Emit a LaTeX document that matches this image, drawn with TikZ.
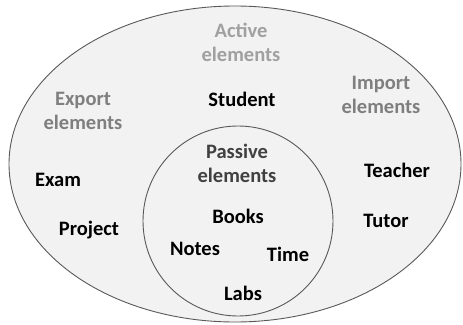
\documentclass[tikz,border=0pt]{standalone}
\usepackage{fontspec}
\setmainfont{Carlito}
\definecolor{fillgray}{HTML}{F2F2F2}
\definecolor{edgegray}{HTML}{595959}
\definecolor{lightlabel}{HTML}{A0A0A0}
\definecolor{midlabel}{HTML}{7F7F7F}
\definecolor{darklabel}{HTML}{404040}
\begin{document}
\begin{tikzpicture}[x=1pt,y=-1pt,
  lbl/.style={font=\fontsize{20.5}{24}\selectfont\bfseries,align=center,inner sep=0pt},
  item/.style={lbl,text=black},
  bound/.style={draw=edgegray,line width=0.9pt,fill=fillgray}]
\useasboundingbox (0,0) rectangle (463,324);
\path[bound] (235,164) ellipse [x radius=226,y radius=158];
\path[bound] (238,221) circle [radius=95];
\node[lbl,text=lightlabel] (active) at (241,42) {Active\\elements};
\node[lbl,text=midlabel] (export) at (83,111) {Export\\elements};
\node[lbl,text=midlabel] (import) at (381,95) {Import\\elements};
\node[lbl,text=darklabel] (passive) at (237,163) {Passive\\elements};
\node[item] (student) at (242,99) {Student};
\node[item] (exam) at (58,180) {Exam};
\node[item] (project) at (89,230) {Project};
\node[item] (teacher) at (397,170) {Teacher};
\node[item] (tutor) at (386,221) {Tutor};
\node[item] (books) at (238,216) {Books};
\node[item] (notes) at (195,249) {Notes};
\node[item] (time) at (288,254) {Time};
\node[item] (labs) at (243,293) {Labs};
\end{tikzpicture}
\end{document}
